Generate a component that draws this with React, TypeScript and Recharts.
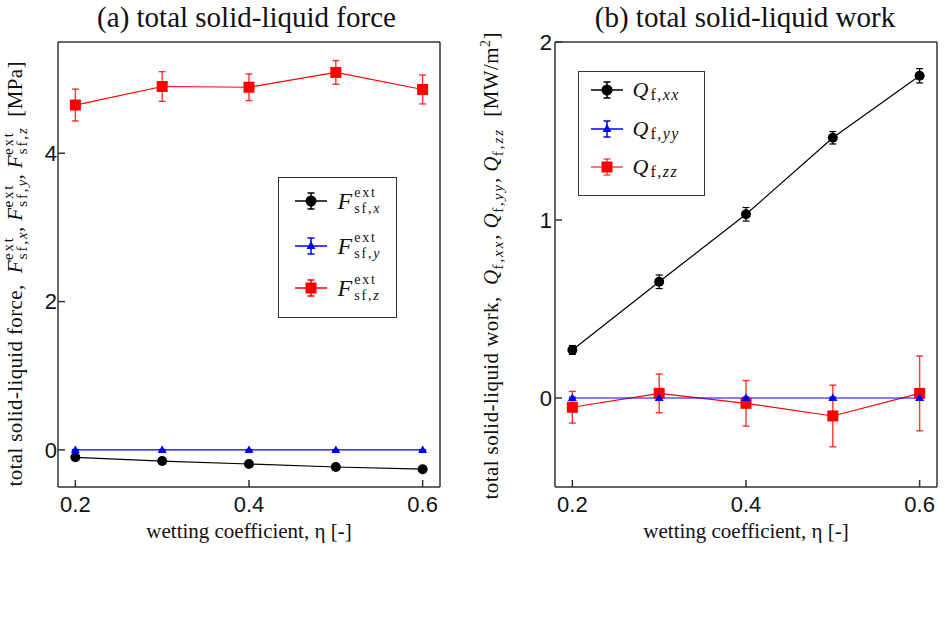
import React from 'react';
import { LineChart, Line, XAxis, YAxis, ErrorBar, Legend, Label } from 'recharts';

// wetting coefficient eta
const eta = [0.2, 0.3, 0.4, 0.5, 0.6];

// (a) total solid-liquid force [MPa]
const fx = [-0.1, -0.15, -0.19, -0.23, -0.26];
const fxErr = [0.01, 0.01, 0.01, 0.01, 0.01];
const fy = [0, 0, 0, 0, 0];
const fyErr = [0.005, 0.005, 0.005, 0.005, 0.005];
const fz = [4.65, 4.9, 4.89, 5.09, 4.86];
const fzErr = [0.215, 0.2, 0.18, 0.16, 0.195];

// (b) total solid-liquid work [MW/m2]
const qxx = [0.27, 0.653, 1.032, 1.462, 1.81];
const qxxErr = [0.025, 0.038, 0.038, 0.035, 0.04];
const qyy = [0, 0, 0, 0, 0];
const qyyErr = [0.005, 0.005, 0.005, 0.005, 0.005];
const qzz = [-0.052, 0.026, -0.03, -0.101, 0.026];
const qzzErr = [0.089, 0.109, 0.128, 0.173, 0.21];

// ticks
const xDomain = [0.18, 0.62];
const xMajor = [0.2, 0.4, 0.6];
const xMinor = [0.2, 0.25, 0.3, 0.35, 0.4, 0.45, 0.5, 0.55, 0.6];
const fDomain = [-0.5, 5.5];
const fMajor = [0, 2, 4];
const fMinor = [-0.5, 0, 0.5, 1, 1.5, 2, 2.5, 3, 3.5, 4, 4.5, 5, 5.5];
const qDomain = [-0.5, 2];
const qMajor = [0, 1, 2];
const qMinor = [-0.4, -0.2, 0, 0.2, 0.4, 0.6, 0.8, 1, 1.2, 1.4, 1.6, 1.8, 2];

const forceRows = eta.map((e, i) => ({
  eta: e, fx: fx[i], fxErr: fxErr[i], fy: fy[i], fyErr: fyErr[i], fz: fz[i], fzErr: fzErr[i],
}));
const workRows = eta.map((e, i) => ({
  eta: e, qxx: qxx[i], qxxErr: qxxErr[i], qyy: qyy[i], qyyErr: qyyErr[i], qzz: qzz[i], qzzErr: qzzErr[i],
}));

const serif = '"Liberation Serif", "Times New Roman", serif';
const sans = '"Liberation Sans", Arial, sans-serif';
const frame = { stroke: '#333', strokeWidth: 1.5 };
const tickFont = { fontFamily: sans, fontSize: 22, fill: '#111' };
const RED = '#ff0000';
const BLUE = '#0000ff';

const circleDot = (p: any) => (
  <circle key={`c${p.index}`} cx={p.cx} cy={p.cy} r={5} fill="#000" />
);
const triDot = (color: string) => (p: any) => (
  <polygon key={`t${p.index}`} points={`${p.cx},${p.cy - 4.5} ${p.cx + 4.5},${p.cy + 3} ${p.cx - 4.5},${p.cy + 3}`} fill={color} />
);
const squareDot = (p: any) => (
  <rect key={`s${p.index}`} x={p.cx - 5.5} y={p.cy - 5.5} width={11} height={11} fill={RED} />
);

function Marker({ color, errOpacity, children }: { color: string; errOpacity?: number; children: React.ReactNode }) {
  return (
    <svg width={34} height={24} style={{ display: 'block' }}>
      <line x1={1} y1={12} x2={33} y2={12} stroke={color} strokeWidth={1.5} strokeOpacity={errOpacity ?? 1} />
      <g stroke={color} strokeWidth={1.5} strokeOpacity={errOpacity ?? 1}>
        <line x1={17} y1={4} x2={17} y2={20} />
        <line x1={13.5} y1={4} x2={20.5} y2={4} />
        <line x1={13.5} y1={20} x2={20.5} y2={20} />
      </g>
      {children}
    </svg>
  );
}

const legendMarkers = {
  circle: (c: string) => <circle cx={17} cy={12} r={5.5} fill={c} />,
  tri: (c: string) => <polygon points="17,7 21.5,15 12.5,15" fill={c} />,
  square: (c: string) => <rect x={11.5} y={6.5} width={11} height={11} fill={c} />,
};

function FText({ axis }: { axis: string }) {
  return (
    <span style={{ display: 'inline-flex', alignItems: 'center', fontFamily: serif, color: '#111' }}>
      <span style={{ fontStyle: 'italic', fontSize: 24, lineHeight: '24px' }}>F</span>
      <span style={{ display: 'inline-flex', flexDirection: 'column', fontSize: 14, lineHeight: '16px', marginLeft: 2, letterSpacing: 1.8 }}>
        <span>ext</span>
        <span>sf,<i>{axis}</i></span>
      </span>
    </span>
  );
}

function QText({ axis }: { axis: string }) {
  return (
    <span style={{ display: 'inline-flex', alignItems: 'center', fontFamily: serif, color: '#111' }}>
      <span style={{ fontStyle: 'italic', fontSize: 22, lineHeight: '24px' }}>Q</span>
      <span style={{ fontSize: 16, position: 'relative', top: 5, marginLeft: 2, letterSpacing: 1.5 }}>
        f,<i>{axis}</i>
      </span>
    </span>
  );
}

type Entry = { key: string; color: string; errOpacity?: number; shape: keyof typeof legendMarkers; text: React.ReactNode; cy: number };

function LegendBox({ left, top, width, height, markerX, textX, entries }: {
  left: number; top: number; width: number; height: number; markerX: number; textX: number; entries: Entry[];
}) {
  return (
    <div style={{ position: 'relative', width, height, boxSizing: 'border-box', border: '1.5px solid #333', background: '#fff' }}>
      {entries.map((e) => (
        <React.Fragment key={e.key}>
          <div style={{ position: 'absolute', left: markerX - left - 1.5 - 17, top: e.cy - top - 1.5 - 12 }}>
            <Marker color={e.color} errOpacity={e.errOpacity}>{legendMarkers[e.shape](e.color)}</Marker>
          </div>
          <div style={{ position: 'absolute', left: textX - left - 1.5, top: e.cy - top - 1.5 - 16, height: 32, display: 'flex', alignItems: 'center' }}>
            {e.text}
          </div>
        </React.Fragment>
      ))}
    </div>
  );
}

function ForceAxisTitle() {
  const s = 15;
  const part = (axis: string, tail: string) => [
    <tspan key={`F${axis}`} fontStyle="italic">F</tspan>,
    <tspan key={`e${axis}`} fontSize={s} dy={-9} letterSpacing={1.5}>ext</tspan>,
    <tspan key={`s${axis}`} fontSize={s} dx={-23} dy={14} letterSpacing={1.5}>sf,</tspan>,
    <tspan key={`a${axis}`} fontSize={s} fontStyle="italic">{axis}</tspan>,
    <tspan key={`t${axis}`} dy={-5}>{tail}</tspan>,
  ];
  return (
    <text transform="translate(22,274) rotate(-90)" textAnchor="middle" textLength={425} lengthAdjust="spacing" fontFamily={serif} fontSize={21} fill="#111">
      <tspan>{'total solid-liquid force,\u00a0\u00a0'}</tspan>
      {part('x', ', ')}
      {part('y', ', ')}
      {part('z', '\u00a0\u00a0[MPa]')}
    </text>
  );
}

function WorkAxisTitle() {
  const part = (axis: string, tail: string) => [
    <tspan key={`Q${axis}`} fontStyle="italic">Q</tspan>,
    <tspan key={`s${axis}`} fontSize={15} dy={5} letterSpacing={1.5}>f,</tspan>,
    <tspan key={`a${axis}`} fontSize={15} fontStyle="italic" letterSpacing={1.5}>{axis}</tspan>,
    <tspan key={`t${axis}`} dy={-5}>{tail}</tspan>,
  ];
  return (
    <text transform="translate(28,266) rotate(-90)" textAnchor="middle" textLength={467} lengthAdjust="spacing" fontFamily={serif} fontSize={21} fill="#111">
      <tspan>{'total solid-liquid work,\u00a0\u00a0'}</tspan>
      {part('xx', ', ')}
      {part('yy', ', ')}
      {part('zz', '\u00a0\u00a0[MW/m')}
      <tspan fontSize={14} dy={-8}>2</tspan>
      <tspan dy={8}>]</tspan>
    </text>
  );
}

const XTitle = ({ x }: { x: number }) => (
  <text x={x} y={538} textAnchor="middle" fontFamily={serif} fontSize={21} fill="#111">
    wetting coefficient, η [-]
  </text>
);

export default function App() {
  const xCommon = { dataKey: 'eta', type: 'number' as const, domain: xDomain, allowDataOverflow: true, interval: 0 as const };
  return (
    <div style={{ position: 'absolute', left: 0, top: 0, width: 945, height: 618, background: '#fff' }}>
      <svg width={945} height={40} style={{ position: 'absolute', left: 0, top: 0 }}>
        <text x={246.5} y={27} textAnchor="middle" fontFamily={serif} fontSize={29} fill="#111">(a) total solid-liquid force</text>
        <text x={745} y={27} textAnchor="middle" fontFamily={serif} fontSize={29} fill="#111">(b) total solid-liquid work</text>
      </svg>

      <div style={{ position: 'absolute', left: 0, top: 0 }}>
        <LineChart width={470} height={618} data={forceRows} margin={{ top: 42, right: 30, bottom: 91, left: 0 }}>
          <XAxis xAxisId="main" {...xCommon} ticks={xMajor} tickSize={-7} tickMargin={16} tick={tickFont} axisLine={frame} tickLine={frame} height={40}>
            <Label content={() => <XTitle x={249} />} />
          </XAxis>
          <XAxis xAxisId="minor" {...xCommon} ticks={xMinor} mirror tick={false} tickSize={4} axisLine={false} tickLine={frame} />
          <XAxis xAxisId="top" {...xCommon} orientation="top" ticks={xMinor} mirror tick={false} tickSize={4} axisLine={frame} tickLine={frame} />
          <YAxis yAxisId="main" type="number" domain={fDomain} allowDataOverflow ticks={fMajor} interval={0} tickSize={-7} tickMargin={8} tick={tickFont} axisLine={frame} tickLine={frame} width={58}>
            <Label content={() => <ForceAxisTitle />} />
          </YAxis>
          <YAxis yAxisId="minor" type="number" domain={fDomain} allowDataOverflow ticks={fMinor} interval={0} mirror tick={false} tickSize={4} axisLine={false} tickLine={frame} />
          <YAxis yAxisId="right" orientation="right" type="number" domain={fDomain} allowDataOverflow ticks={fMinor} interval={0} mirror tick={false} tickSize={4} axisLine={frame} tickLine={frame} />
          <Line xAxisId="main" yAxisId="main" dataKey="fx" stroke="#000" strokeWidth={1.2} dot={circleDot} activeDot={false} isAnimationActive={false}>
            <ErrorBar dataKey="fxErr" direction="y" width={3.5} stroke="#000" strokeWidth={1.2} isAnimationActive={false} />
          </Line>
          <Line xAxisId="main" yAxisId="main" dataKey="fy" stroke={BLUE} strokeWidth={1.2} dot={triDot(BLUE)} activeDot={false} isAnimationActive={false}>
            <ErrorBar dataKey="fyErr" direction="y" width={3.5} stroke={BLUE} strokeWidth={1.2} isAnimationActive={false} />
          </Line>
          <Line xAxisId="main" yAxisId="main" dataKey="fz" stroke={RED} strokeWidth={1.2} dot={squareDot} activeDot={false} isAnimationActive={false}>
            <ErrorBar dataKey="fzErr" direction="y" width={3.5} stroke={RED} strokeOpacity={0.8} strokeWidth={1.4} isAnimationActive={false} />
          </Line>
          <Legend
            layout="vertical"
            align="center"
            verticalAlign="middle"
            wrapperStyle={{ left: 278, top: 177, width: 119, height: 141 }}
            content={() => (
              <LegendBox left={278} top={177} width={119} height={141} markerX={311} textX={338}
                entries={[
                  { key: 'x', color: '#000', shape: 'circle', text: <FText axis="x" />, cy: 201 },
                  { key: 'y', color: BLUE, shape: 'tri', text: <FText axis="y" />, cy: 246 },
                  { key: 'z', color: RED, shape: 'square', text: <FText axis="z" />, cy: 288 },
                ]}
              />
            )}
          />
        </LineChart>
      </div>

      <div style={{ position: 'absolute', left: 470, top: 0 }}>
        <LineChart width={475} height={618} data={workRows} margin={{ top: 42, right: 8, bottom: 91, left: 27 }}>
          <XAxis xAxisId="main" {...xCommon} ticks={xMajor} tickSize={-7} tickMargin={16} tick={tickFont} axisLine={frame} tickLine={frame} height={40}>
            <Label content={() => <XTitle x={276} />} />
          </XAxis>
          <XAxis xAxisId="minor" {...xCommon} ticks={xMinor} mirror tick={false} tickSize={4} axisLine={false} tickLine={frame} />
          <XAxis xAxisId="top" {...xCommon} orientation="top" ticks={xMinor} mirror tick={false} tickSize={4} axisLine={frame} tickLine={frame} />
          <YAxis yAxisId="main" type="number" domain={qDomain} allowDataOverflow ticks={qMajor} interval={0} tickSize={-7} tickMargin={10} tick={tickFont} axisLine={frame} tickLine={frame} width={58}>
            <Label content={() => <WorkAxisTitle />} />
          </YAxis>
          <YAxis yAxisId="minor" type="number" domain={qDomain} allowDataOverflow ticks={qMinor} interval={0} mirror tick={false} tickSize={4} axisLine={false} tickLine={frame} />
          <YAxis yAxisId="right" orientation="right" type="number" domain={qDomain} allowDataOverflow ticks={qMinor} interval={0} mirror tick={false} tickSize={4} axisLine={frame} tickLine={frame} />
          <Line xAxisId="main" yAxisId="main" dataKey="qxx" stroke="#000" strokeWidth={1.2} dot={circleDot} activeDot={false} isAnimationActive={false}>
            <ErrorBar dataKey="qxxErr" direction="y" width={3.5} stroke="#000" strokeWidth={1.2} isAnimationActive={false} />
          </Line>
          <Line xAxisId="main" yAxisId="main" dataKey="qzz" stroke={RED} strokeWidth={1.2} dot={squareDot} activeDot={false} isAnimationActive={false}>
            <ErrorBar dataKey="qzzErr" direction="y" width={3.5} stroke={RED} strokeOpacity={0.8} strokeWidth={1.4} isAnimationActive={false} />
          </Line>
          <Line xAxisId="main" yAxisId="main" dataKey="qyy" stroke={BLUE} strokeWidth={1.2} dot={triDot(BLUE)} activeDot={false} isAnimationActive={false}>
            <ErrorBar dataKey="qyyErr" direction="y" width={3.5} stroke={BLUE} strokeWidth={1.2} isAnimationActive={false} />
          </Line>
          <Legend
            layout="vertical"
            align="center"
            verticalAlign="middle"
            wrapperStyle={{ left: 108, top: 71, width: 127, height: 125 }}
            content={() => (
              <LegendBox left={578} top={71} width={127} height={125} markerX={607.7} textX={633}
                entries={[
                  { key: 'xx', color: '#000', shape: 'circle', text: <QText axis="xx" />, cy: 90.7 },
                  { key: 'yy', color: BLUE, shape: 'tri', text: <QText axis="yy" />, cy: 129.3 },
                  { key: 'zz', color: RED, errOpacity: 0.7, shape: 'square', text: <QText axis="zz" />, cy: 167.3 },
                ]}
              />
            )}
          />
        </LineChart>
      </div>
    </div>
  );
}
